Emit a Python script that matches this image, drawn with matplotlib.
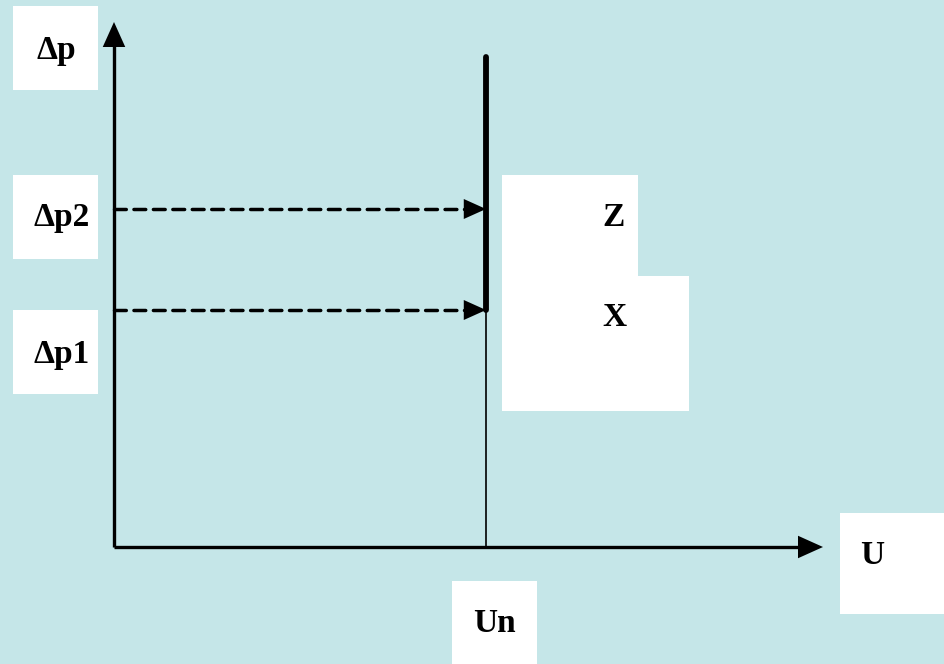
import matplotlib

matplotlib.use("Agg")
import matplotlib.pyplot as plt
from matplotlib.patches import Rectangle

# Diagram values (origin at the axis intersection, 1 unit = 100 px)
U_N = 3.72            # nominal U
DP1 = 2.37            # Δp1 level
DP2 = 3.38            # Δp2 level
DP_TOP = 4.90         # top of the bold Z segment
U_AXIS_END = 7.09
DP_AXIS_END = 5.25

BG = "#C5E6E8"
FONT = dict(family="Liberation Serif", weight="bold", fontsize=24, color="black")

W, H = 945, 664
X0, Y0 = 114, 547     # origin in pixels


def px(x, y):
    """pixel coords (top-left origin) -> data coords"""
    return (x - X0) / 100.0, (Y0 - y) / 100.0


fig = plt.figure(figsize=(W / 100, H / 100), dpi=100)
fig.patch.set_facecolor(BG)
ax = fig.add_axes([0, 0, 1, 1])
ax.set_facecolor(BG)
xmin, ymax = px(0, 0)
xmax, ymin = px(W, H)
ax.set_xlim(xmin, xmax)
ax.set_ylim(ymin, ymax)
ax.axis("off")

# white label boxes (pixel rectangles: left, top, right, bottom)
boxes = [
    (13, 6, 98, 90),
    (13, 175, 98, 259),
    (13, 310, 98, 394),
    (502, 175, 638, 411),
    (638, 276, 689, 411),
    (840, 513, 945, 614),
    (452, 581, 537, 664),
]
for l, t, r, b in boxes:
    x1, y1 = px(l, b)
    x2, y2 = px(r, t)
    ax.add_patch(Rectangle((x1, y1), x2 - x1, y2 - y1, facecolor="white",
                           edgecolor="none", zorder=1))

# axes with arrows
ax.plot([0, 0], [0, DP_AXIS_END - 0.15], color="black", lw=2.4, zorder=3,
        solid_capstyle="butt")
ax.plot([0, U_AXIS_END - 0.15], [0, 0], color="black", lw=2.4, zorder=3,
        solid_capstyle="butt")
head = dict(arrowstyle="-|>,head_length=1.0,head_width=0.45", color="black",
            lw=0, mutation_scale=18, shrinkA=0, shrinkB=0)
ax.annotate("", xy=(0, DP_AXIS_END), xytext=(0, DP_AXIS_END - 0.2),
            arrowprops=head, zorder=4)
ax.annotate("", xy=(U_AXIS_END, 0), xytext=(U_AXIS_END - 0.2, 0),
            arrowprops=head, zorder=4)

# characteristic: thin line up to Δp1, bold up to top
ax.plot([U_N, U_N], [0, DP1], color="black", lw=1.2, zorder=3)
ax.plot([U_N, U_N], [DP1, DP_TOP], color="black", lw=4.2, zorder=3,
        solid_capstyle="round")

# dashed projections
for lvl in (DP1, DP2):
    ax.plot([0, U_N - 0.17], [lvl, lvl], color="black", lw=2.5,
            dashes=(3.4, 2.2), dash_capstyle="round", zorder=3)
    ax.annotate("", xy=(U_N, lvl), xytext=(U_N - 0.2, lvl),
                arrowprops=dict(head, mutation_scale=16), zorder=4)

# labels
labels = [
    ("Δp", 56, 50),
    ("Δp2", 62, 218),
    ("Δp1", 62, 354),
    ("Z", 614, 218),
    ("X", 614, 318),
    ("U", 872, 556),
    ("Un", 494, 624),
]
for txt, x, y in labels:
    ax.text(*px(x, y), txt, ha="center", va="center", zorder=5, **FONT)

fig.savefig("out.png", dpi=100, facecolor=BG)
